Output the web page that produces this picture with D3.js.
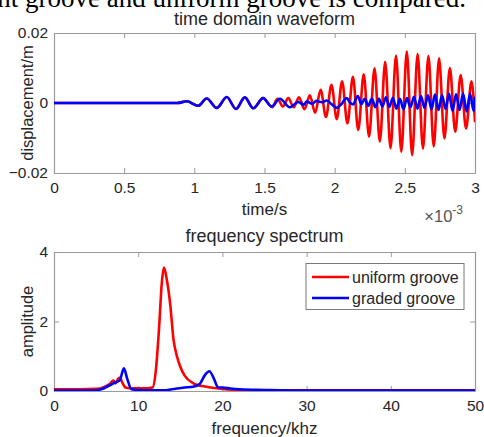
<!DOCTYPE html>
<html><head><meta charset="utf-8">
<script src="https://cdn.jsdelivr.net/npm/d3@7"></script>
<style>
html,body{margin:0;padding:0;background:#fff;}
svg{display:block;}
text{font-family:"Liberation Sans",Arial,sans-serif;}
</style></head>
<body>
<svg id="c" width="484" height="437"></svg>
<script>
// ---------- data ----------
const captionText = "gradient groove and uniform groove is compared.";
const timeTitle = "time domain waveform";
const specTitle = "frequency spectrum";
const timeTicks = [0, 0.5, 1, 1.5, 2, 2.5, 3];          // ×10^-3 s
const dispTicks = [-0.02, 0, 0.02];
const freqTicks = [0, 10, 20, 30, 40, 50];
const ampTicks = [0, 2, 4];
const seriesNames = ["uniform groove", "graded groove"];
const seriesColors = ["#ff0000", "#0000ff"];

// time domain (t in ms, displacement in m)
const redT = [0, 0.80, 0.88, 0.946, 1.028, 1.088, 1.16, 1.231, 1.297, 1.36, 1.42, 1.49, 1.555,
  1.593, 1.631, 1.670, 1.708, 1.746, 1.785, 1.823, 1.861, 1.900, 1.938, 1.977, 2.015, 2.053, 2.091,
  2.130, 2.168, 2.207, 2.245, 2.284, 2.322, 2.360, 2.398, 2.437, 2.475, 2.514, 2.552, 2.591, 2.629,
  2.668, 2.706, 2.744, 2.782, 2.821, 2.859, 2.898, 2.936, 2.975, 3.0];
const redV = [0, 0, 0, 0.0005, -0.0008, 0.0013, -0.0014, 0.0017, -0.0017, 0.0016, -0.0015, 0.0014, -0.0012,
  0.0012, -0.0010, 0.0014, -0.0012, 0.0016, -0.0018, 0.0022, -0.0028, 0.0038, -0.0040, 0.0052, -0.0046, 0.0062, -0.0058,
  0.0075, -0.0077, 0.0082, -0.0096, 0.0099, -0.0110, 0.0118, -0.0129, 0.0135, -0.0139, 0.0147, -0.0149, 0.0140, -0.0130,
  0.0134, -0.0124, 0.0128, -0.0101, 0.0100, -0.0082, 0.0080, -0.0073, 0.0062, -0.0055];
const blueT = [0, 0.80, 0.88, 0.946, 1.028, 1.088, 1.16, 1.231, 1.297, 1.36, 1.42, 1.49, 1.55, 1.61,
  1.68, 1.74, 1.78, 1.80, 1.84, 1.87, 1.91, 1.944, 1.98, 2.015, 2.05, 2.086, 2.11, 2.13, 2.165, 2.19,
  2.215, 2.24, 2.265, 2.29, 2.315, 2.34, 2.365, 2.39, 2.415, 2.44, 2.465, 2.49, 2.515, 2.54, 2.565,
  2.59, 2.615, 2.64, 2.665, 2.69, 2.715, 2.74, 2.765, 2.79, 2.815, 2.84, 2.865, 2.89, 2.915, 2.94,
  2.965, 2.99, 3.0];
const blueV = [0, 0, 0, 0.0005, -0.0008, 0.0013, -0.0014, 0.0017, -0.0017, 0.0016, -0.0015, 0.0014, -0.0010, 0.0012,
  -0.0012, 0.0003, -0.0005, 0.0004, -0.0002, 0.0006, 0.0002, 0.0007, -0.0004, -0.0014, -0.0002, 0.0014, 0.0001, -0.0004, 0.0020, -0.0003,
  0.0012, -0.0008, 0.0013, -0.0012, 0.0012, -0.0010, 0.0016, -0.0011, 0.0015, -0.0016, 0.0012, -0.0018, 0.0014, -0.0012, 0.0018,
  -0.0016, 0.0020, -0.0014, 0.0022, -0.0018, 0.0024, -0.0020, 0.0023, -0.0017, 0.0026, -0.0022, 0.0025, -0.0020, 0.0027, -0.0024,
  0.0026, -0.0022, 0.0018];

// spectrum (f in kHz, amplitude)
const redF = [0, 3, 5, 6, 6.6, 7.05, 7.3, 7.6, 7.85, 8.1, 8.5, 9, 10, 11, 11.7, 12.1, 12.5, 12.8, 13.06, 13.4,
  13.8, 14.2, 14.6, 15, 15.5, 16.5, 18.1, 20, 22, 25, 30, 40, 50];
const redA = [0.05, 0.05, 0.06, 0.12, 0.2, 0.3, 0.22, 0.35, 0.38, 0.25, 0.1, 0.08, 0.08, 0.08, 0.1, 0.6, 1.9, 3.1, 3.55, 3.2,
  2.5, 1.47, 1.0, 0.7, 0.45, 0.23, 0.12, 0.06, 0.03, 0.02, 0.02, 0.02, 0.02];
const blueF = [0, 3, 5, 5.6, 6.5, 7.3, 7.8, 8.3, 8.7, 9.2, 10, 12, 13, 14, 15.5, 16.5, 17.3, 17.9, 18.45, 19,
  19.5, 20, 21, 22, 25, 30, 40, 50];
const blueA = [0.01, 0.01, 0.02, 0.05, 0.15, 0.25, 0.3, 0.65, 0.35, 0.05, 0.03, 0.02, 0.02, 0.05, 0.1, 0.12, 0.2, 0.45, 0.57, 0.35,
  0.1, 0.1, 0.07, 0.05, 0.03, 0.01, 0.01, 0.01];

// ---------- drawing ----------
const svg = d3.select("#c");
const axisColor = "#9a9a9a", textColor = "#262626";

svg.append("text").attr("x", 466).attr("y", 7).attr("text-anchor", "end")
  .style("font-family", "'Liberation Serif','Times New Roman',serif").style("font-size", "27px")
  .attr("fill", "#000").text(captionText);

function panel(cfg) {
  const {left, right, top, bottom} = cfg;
  const x = d3.scaleLinear().domain(cfg.xDomain).range([left, right]);
  const y = d3.scaleLinear().domain(cfg.yDomain).range([bottom, top]);
  const g = svg.append("g");
  const clipId = "clip" + cfg.id;
  svg.append("clipPath").attr("id", clipId).append("rect")
    .attr("x", left).attr("y", top).attr("width", right - left).attr("height", bottom - top);

  const styleAxis = a => {
    a.select(".domain").attr("stroke", axisColor).attr("stroke-width", 1.2);
    a.selectAll(".tick line").attr("stroke", axisColor);
    a.selectAll(".tick text").attr("fill", textColor).style("font-size", "15.5px")
      .style("font-family", "'Liberation Sans',Arial,sans-serif");
  };
  g.append("g").attr("transform", `translate(0,${bottom})`)
    .call(d3.axisBottom(x).tickValues(cfg.xTicks).tickSize(-5).tickSizeOuter(0).tickPadding(9).tickFormat(d3.format("~g")))
    .call(styleAxis);
  g.append("g").attr("transform", `translate(0,${top})`)
    .call(d3.axisTop(x).tickValues(cfg.xTicks).tickSize(-5).tickSizeOuter(0).tickFormat(""))
    .call(styleAxis);
  g.append("g").attr("transform", `translate(${left},0)`)
    .call(d3.axisLeft(y).tickValues(cfg.yTicks).tickSize(-5).tickSizeOuter(0).tickPadding(6).tickFormat(d3.format("~g")))
    .call(styleAxis);
  g.append("g").attr("transform", `translate(${right},0)`)
    .call(d3.axisRight(y).tickValues(cfg.yTicks).tickSize(-5).tickSizeOuter(0).tickFormat(""))
    .call(styleAxis);

  const line = d3.line().x(d => x(d[0])).y(d => y(d[1])).curve(d3.curveMonotoneX);
  const lg = g.append("g").attr("clip-path", `url(#${clipId})`);
  cfg.series.forEach((s, i) => {
    lg.append("path").datum(s.xs.map((v, k) => [v, s.ys[k]]))
      .attr("fill", "none").attr("stroke", seriesColors[i]).attr("stroke-width", 2.6)
      .attr("stroke-linejoin", "round").attr("d", line);
  });

  svg.append("text").attr("x", (left + right) / 2).attr("y", cfg.titleY).attr("text-anchor", "middle")
    .attr("fill", textColor).style("font-size", "18px").text(cfg.title);
  svg.append("text").attr("x", (left + right) / 2).attr("y", cfg.xLabelY).attr("text-anchor", "middle")
    .attr("fill", textColor).style("font-size", "17px").text(cfg.xLabel);
  svg.append("text").attr("transform", `translate(${cfg.yLabelX},${(top + bottom) / 2}) rotate(-90)`)
    .attr("text-anchor", "middle").attr("fill", textColor).style("font-size", "16.5px").text(cfg.yLabel);
  return {x, y, g};
}

panel({
  id: 1, left: 54, right: 475, top: 33, bottom: 173,
  xDomain: [0, 3], yDomain: [-0.02, 0.02], xTicks: timeTicks, yTicks: dispTicks,
  series: [{xs: redT, ys: redV}, {xs: blueT, ys: blueV}],
  title: timeTitle, titleY: 25, xLabel: "time/s", xLabelY: 215, yLabel: "displacement/m", yLabelX: 33
});
// exponent label
const ex = svg.append("text").attr("x", 463).attr("y", 222).attr("text-anchor", "end")
  .attr("fill", "#555").style("font-size", "16.5px");
ex.append("tspan").text("\u00d710");
ex.append("tspan").attr("dy", -8).style("font-size", "12px").text("-3");

panel({
  id: 2, left: 54, right: 475, top: 252, bottom: 391,
  xDomain: [0, 50], yDomain: [0, 4], xTicks: freqTicks, yTicks: ampTicks,
  series: [{xs: redF, ys: redA}, {xs: blueF, ys: blueA}],
  title: specTitle, titleY: 242, xLabel: "frequency/khz", xLabelY: 434, yLabel: "amplitude", yLabelX: 33
});

// legend
const lgd = svg.append("g");
lgd.append("rect").attr("x", 306).attr("y", 263.5).attr("width", 158).attr("height", 46)
  .attr("fill", "#fff").attr("stroke", "#7a7a7a").attr("stroke-width", 1);
seriesNames.forEach((n, i) => {
  const yy = 277 + i * 21;
  lgd.append("line").attr("x1", 312).attr("x2", 349).attr("y1", yy).attr("y2", yy)
    .attr("stroke", seriesColors[i]).attr("stroke-width", 2.6);
  lgd.append("text").attr("x", 352).attr("y", yy + 5.5).attr("fill", textColor)
    .style("font-size", "16px").text(n);
});
</script>
</body></html>
